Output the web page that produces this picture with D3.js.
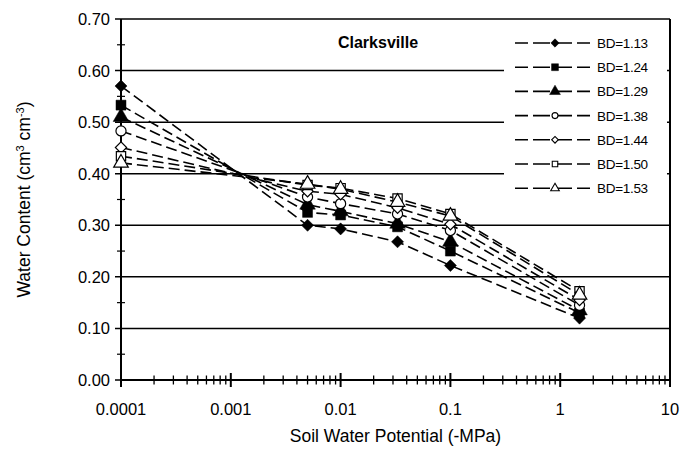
<!DOCTYPE html>
<html>
<head>
<meta charset="utf-8">
<script src="https://cdn.jsdelivr.net/npm/d3@7"></script>
<style>
  body { margin: 0; background: #fff; }
  text { font-family: "Liberation Sans", Arial, sans-serif; fill: #000; }
</style>
</head>
<body>
<script>
// soil water potential (-MPa) at which water content was measured
var potentials = [0.0001, 0.005, 0.01, 0.033, 0.1, 1.5];
var seriesNames = ["BD=1.13", "BD=1.24", "BD=1.29", "BD=1.38", "BD=1.44", "BD=1.50", "BD=1.53"];
var bd113 = [0.57, 0.30, 0.293, 0.268, 0.222, 0.12];
var bd124 = [0.533, 0.325, 0.32, 0.297, 0.25, 0.13];
var bd129 = [0.51, 0.34, 0.327, 0.303, 0.268, 0.135];
var bd138 = [0.483, 0.355, 0.342, 0.322, 0.29, 0.145];
var bd144 = [0.451, 0.366, 0.36, 0.334, 0.302, 0.155];
var bd150 = [0.434, 0.378, 0.372, 0.352, 0.322, 0.172];
var bd153 = [0.421, 0.38, 0.37, 0.345, 0.318, 0.165];
var yTicks = [0, 0.1, 0.2, 0.3, 0.4, 0.5, 0.6, 0.7];
var xTickLabels = ["0.0001", "0.001", "0.01", "0.1", "1", "10"];

var allSeries = [bd113, bd124, bd129, bd138, bd144, bd150, bd153];
// marker per series: shape + filled?
var markers = [
    {shape: "diamond", fill: true},
    {shape: "square", fill: true},
    {shape: "triangle", fill: true},
    {shape: "circle", fill: false},
    {shape: "diamond", fill: false},
    {shape: "square", fill: false},
    {shape: "triangle", fill: false}
];

var width = 686, height = 452;
var margins = {top: 19, bottom: 72, left: 121, right: 16};

var x = d3.scaleLog()
    .domain([0.0001, 10])
    .range([margins.left, width - margins.right]);
var y = d3.scaleLinear()
    .domain([0, 0.7])
    .range([height - margins.bottom, margins.top]);

var svg = d3.select("body").append("svg")
    .attr("width", width)
    .attr("height", height);

var symbolFor = function(shape, size, filled)
{
    var k = filled ? 1.15 : 1;
    if (shape == "diamond") return d3.symbol().type(d3.symbolSquare).size(size * 0.55 * k)();
    if (shape == "square") return d3.symbol().type(d3.symbolSquare).size(size * 0.75 * k)();
    if (shape == "triangle") return d3.symbol().type(d3.symbolTriangle).size(size * 0.8 * k)();
    return d3.symbol().type(d3.symbolCircle).size(size * 0.7 * k)();
};

var isMajor = function(d){
    return Math.abs(Math.log10(d) - Math.round(Math.log10(d))) < 1e-6;
};

// gridlines
svg.selectAll(".grid")
    .data(yTicks.slice(1))
    .enter()
    .append("line")
    .attr("x1", x.range()[0] - 6)
    .attr("x2", x.range()[1])
    .attr("y1", function(d){ return y(d); })
    .attr("y2", function(d){ return y(d); })
    .attr("stroke", "#000")
    .attr("stroke-width", 1.5);

// right border
svg.append("line")
    .attr("x1", x.range()[1]).attr("x2", x.range()[1])
    .attr("y1", y(0.7)).attr("y2", y(0))
    .attr("stroke", "#000").attr("stroke-width", 2);

// y axis minor ticks at 0.05
svg.selectAll(".yminor")
    .data(yTicks.slice(1).map(function(d){ return d - 0.05; }))
    .enter()
    .append("line")
    .attr("x1", x.range()[0] - 4)
    .attr("x2", x.range()[0] + 4)
    .attr("y1", function(d){ return y(d); })
    .attr("y2", function(d){ return y(d); })
    .attr("stroke", "#000")
    .attr("stroke-width", 1.2);

// x axis ticks (log minor + major)
svg.selectAll(".xtick")
    .data(x.ticks())
    .enter()
    .append("line")
    .attr("x1", function(d){ return x(d); })
    .attr("x2", function(d){ return x(d); })
    .attr("y1", function(d){ return y(0) - (isMajor(d) ? 7 : 4.5); })
    .attr("y2", function(d){ return y(0) + (isMajor(d) ? 7 : 4.5); })
    .attr("stroke", "#000")
    .attr("stroke-width", function(d){ return isMajor(d) ? 2 : 1.3; });

// axis lines
svg.append("line")
    .attr("x1", x.range()[0]).attr("x2", x.range()[1])
    .attr("y1", y(0)).attr("y2", y(0))
    .attr("stroke", "#000").attr("stroke-width", 2);
svg.append("line")
    .attr("x1", x.range()[0]).attr("x2", x.range()[0])
    .attr("y1", y(0.7)).attr("y2", y(0) + 2)
    .attr("stroke", "#000").attr("stroke-width", 2);
svg.append("line")
    .attr("x1", x.range()[0] - 6).attr("x2", x.range()[0])
    .attr("y1", y(0)).attr("y2", y(0))
    .attr("stroke", "#000").attr("stroke-width", 1.5);

// tick labels
svg.selectAll(".ylab")
    .data(yTicks)
    .enter()
    .append("text")
    .attr("x", x.range()[0] - 11)
    .attr("y", function(d){ return y(d) + 6; })
    .attr("text-anchor", "end")
    .attr("font-size", 16.5)
    .text(function(d){ return d.toFixed(2); });

svg.selectAll(".xlab")
    .data(xTickLabels)
    .enter()
    .append("text")
    .attr("x", function(d){ return x(+d); })
    .attr("y", y(0) + 35)
    .attr("text-anchor", "middle")
    .attr("font-size", 16.5)
    .text(function(d){ return d; });

// axis titles
svg.append("text")
    .attr("x", (x.range()[0] + x.range()[1]) / 2)
    .attr("y", y(0) + 62)
    .attr("text-anchor", "middle")
    .attr("font-size", 17.5)
    .text("Soil Water Potential (-MPa)");

var ytitle = svg.append("text")
    .attr("transform", "translate(30," + (y(0.35)) + ") rotate(-90)")
    .attr("text-anchor", "middle")
    .attr("font-size", 17.5);
ytitle.append("tspan").text("Water Content (cm");
ytitle.append("tspan").attr("baseline-shift", "super").attr("font-size", 11).text("3");
ytitle.append("tspan").text(" cm");
ytitle.append("tspan").attr("baseline-shift", "super").attr("font-size", 11).text("-3");
ytitle.append("tspan").text(")");

// series lines
var line = d3.line()
    .x(function(d){ return x(d[0]); })
    .y(function(d){ return y(d[1]); });

var groups = svg.selectAll(".series")
    .data(allSeries)
    .enter()
    .append("g")
    .classed("series", true);

groups.append("path")
    .attr("d", function(vals){
        return line(vals.map(function(v, i){ return [potentials[i], v]; }));
    })
    .attr("fill", "none")
    .attr("stroke", "#000")
    .attr("stroke-width", 1.6)
    .attr("stroke-dasharray", "11,5");

groups.each(function(vals, si){
    var m = markers[si];
    d3.select(this).selectAll(".pt")
        .data(vals)
        .enter()
        .append("path")
        .attr("d", symbolFor(m.shape, 115, m.fill))
        .attr("transform", function(v, i){
            return "translate(" + x(potentials[i]) + "," + y(v) + ")" + (m.shape == "diamond" ? " rotate(45)" : "");
        })
        .attr("fill", m.fill ? "#000" : "#fff")
        .attr("stroke", "#000")
        .attr("stroke-width", m.fill ? 0.5 : 1.2);
});

// title
svg.append("text")
    .attr("x", 378)
    .attr("y", 48)
    .attr("text-anchor", "middle")
    .attr("font-size", 16)
    .attr("font-weight", "bold")
    .text("Clarksville");

// legend
var legend = svg.append("g");
legend.append("rect")
    .attr("x", 504).attr("y", 27)
    .attr("width", 163).attr("height", 176)
    .attr("fill", "#fff");

var items = legend.selectAll(".item")
    .data(seriesNames)
    .enter()
    .append("g")
    .attr("transform", function(d, i){ return "translate(0," + (43 + i * 24.2) + ")"; });

items.append("line")
    .attr("x1", 515).attr("x2", 596)
    .attr("y1", 0).attr("y2", 0)
    .attr("stroke", "#000")
    .attr("stroke-width", 1.6)
    .attr("stroke-dasharray", "13,5,17,5,17,5,13");

items.append("path")
    .attr("d", function(d, i){ return symbolFor(markers[i].shape, markers[i].fill ? 55 : 40, markers[i].fill); })
    .attr("transform", function(d, i){
        return "translate(555,0)" + (markers[i].shape == "diamond" ? " rotate(45)" : "");
    })
    .attr("fill", function(d, i){ return markers[i].fill ? "#000" : "#fff"; })
    .attr("stroke", "#000")
    .attr("stroke-width", function(d, i){ return markers[i].fill ? 0.5 : 1.1; });

items.append("text")
    .attr("x", 597)
    .attr("y", 5)
    .attr("font-size", 13.5)
    .attr("letter-spacing", -0.3)
    .text(function(d){ return d; });
</script>
</body>
</html>
